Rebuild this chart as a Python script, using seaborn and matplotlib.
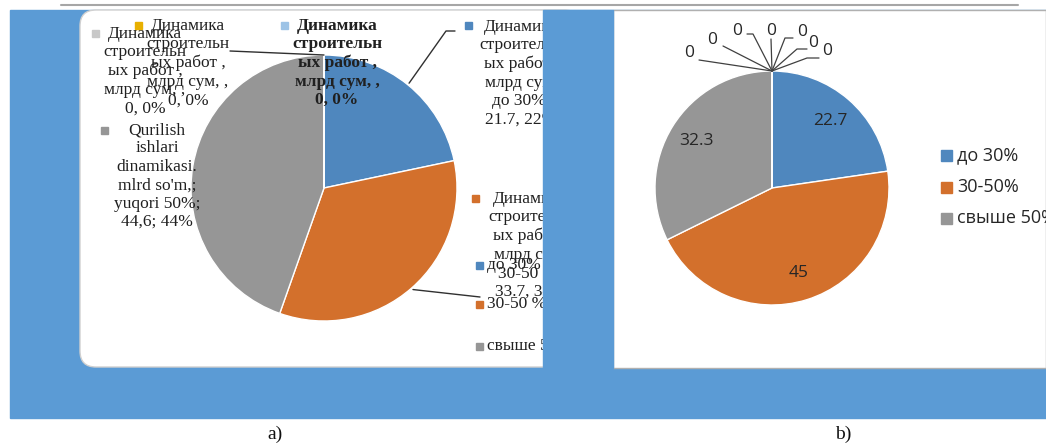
import matplotlib
matplotlib.use("Agg")
import numpy as np
import matplotlib.pyplot as plt
import seaborn as sns
from matplotlib.patches import Rectangle, FancyBboxPatch

# ------------------------------
# DATA
# ------------------------------

categories = ["до 30%", "30-50%", "свыше 50%"]
left_legend = ["до 30%", "30-50 %", "свыше 50%"]

# a) shares of the construction work, with three empty series
left_values = [21.7, 33.7, 44.6, 0, 0, 0]
left_pcts = ["22%", "34%", "44%", "0%", "0%", "0%"]
left_labels = [
    "Динамика\nстроительн\nых работ ,\nмлрд сум,\nдо 30%,\n21.7, 22%",
    "Динамика\nстроительн\nых работ ,\nмлрд сум,\n30-50 %,\n33.7, 34%",
    "Qurilish\nishlari\ndinamikasi.\nmlrd so'm,;\nyuqori 50%;\n44,6; 44%",
    "Динамика\nстроительн\nых работ ,\nмлрд сум, ,\n0, 0%",
    "Динамика\nстроительн\nых работ ,\nмлрд сум, ,\n0, 0%",
    "Динамика\nстроительн\nых работ ,\nмлрд сум, ,\n0, 0%",
]

# b) same split, next period, seven empty points
right_values = [22.7, 45, 32.3, 0, 0, 0, 0, 0, 0, 0]

# ------------------------------
# STYLE
# ------------------------------

sns.set_theme(style="white")
plt.rcParams['font.family'] = ['Liberation Serif', 'DejaVu Serif']

pie_colors = sns.color_palette(["#4F87BE", "#D3702C", "#969696"])
extra_colors = ["#C8C8C8", "#E8B000", "#9DC3E6"]
left_colors = list(pie_colors) + extra_colors
right_colors = list(pie_colors) + ["#C8C8C8"] * 7
page_blue = "#5B9BD5"

W, H = 1046, 448


def Y(py):
    return H - py


fig = plt.figure(figsize=(W / 100, H / 100), dpi=100)
ax = fig.add_axes([0, 0, 1, 1])

# ------------------------------
# BACKGROUND PANELS
# ------------------------------

ax.plot([61, 1018], [Y(5), Y(5)], color="#A6A6A6", lw=1.5)
ax.add_patch(Rectangle((10, Y(418)), W - 10, 408, color=page_blue, zorder=0))
ax.add_patch(FancyBboxPatch((80, Y(367)), 500, 357,
                            boxstyle="round,pad=0,rounding_size=16",
                            facecolor="white", edgecolor="#D0D0D0", lw=1, zorder=0.5))
ax.add_patch(Rectangle((613, Y(368)), W - 613, 358, facecolor="white",
                       edgecolor="#B0B0B0", lw=1, zorder=0.5))

# ------------------------------
# LEFT PIE (a)
# ------------------------------

lc = (324, Y(188))
lr = 133
lw_, _ = ax.pie(left_values, colors=left_colors, startangle=90, counterclock=False,
                center=lc, radius=lr, frame=True)

# label blocks: (centre x, top y) and legend squares
left_label_pos = [(521, 19), (530, 191), (157, 122), (145, 26), (188, 18), (337, 18)]
left_square_pos = [(468, 25), (475, 198), (104, 130), (95, 33), (138, 25), (284, 25)]
for i, txt in enumerate(left_labels):
    x, y = left_label_pos[i]
    ax.text(x, Y(y), txt, ha="center", va="top", fontsize=12.5, linespacing=1.2,
            color="#202020", fontweight="bold" if i == 5 else "normal", zorder=4)
    sx, sy = left_square_pos[i]
    ax.add_patch(Rectangle((sx - 3.5, Y(sy) - 3.5), 7, 7, color=left_colors[i], zorder=4))


def edge_point(w, center, r):
    th = np.deg2rad((w.theta1 + w.theta2) / 2)
    return center[0] + r * np.cos(th), center[1] + r * np.sin(th)


bx, by = edge_point(lw_[0], lc, lr + 2)
ax.plot([bx, 446, 455], [by, Y(31), Y(31)], color="#303030", lw=1, zorder=3)
ox, oy = edge_point(lw_[1], lc, lr + 2)
ax.plot([ox, 480], [oy, Y(297)], color="#303030", lw=1, zorder=3)
tx, ty = edge_point(lw_[3], lc, lr)
ax.plot([230, tx], [Y(51), ty], color="#303030", lw=1, zorder=3)

# left legend
for i, name in enumerate(left_legend):
    ly = [265, 304, 346][i]
    ax.add_patch(Rectangle((476, Y(ly) - 3.5), 7, 7, color=pie_colors[i], zorder=4))
    ax.text(487, Y(ly), name, ha="left", va="center", fontsize=12.5,
            color="#202020", zorder=4)

# strip that cuts the left panel
ax.add_patch(Rectangle((543, Y(368)), 70, 358, color=page_blue, zorder=10))

# ------------------------------
# RIGHT PIE (b)
# ------------------------------

rc = (772, Y(188))
rr = 117
rw, _ = ax.pie(right_values, colors=right_colors, startangle=90, counterclock=False,
               center=rc, radius=rr, frame=True)

for w, v in zip(rw[:3], right_values[:3]):
    px, py = edge_point(w, rc, rr * 0.76)
    ax.text(px, py, f"{v:g}", ha="center", va="center", fontsize=12.5,
            family="Open Sans", color="#262626", zorder=4)

zero_label_pos = [(689, 53), (712, 40), (737, 31), (771, 31), (802, 32), (813, 43), (827, 51)]
zero_line_pts = [[(699, 60)], [(723, 46)], [(747, 34), (753, 34)], [(771, 39)],
                 [(793, 38), (785, 38)], [(807, 49), (797, 49)], [(819, 58), (807, 58)]]
for w, v, (zx, zy), pts in zip(rw[3:], right_values[3:], zero_label_pos, zero_line_pts):
    ax.text(zx, Y(zy), f"{v:g}", ha="center", va="center", fontsize=12.5,
            family="Open Sans", color="#262626", zorder=4)
    top = (rc[0] + rr * np.cos(np.deg2rad(w.theta1)), rc[1] + rr * np.sin(np.deg2rad(w.theta1)))
    xs = [p[0] for p in pts] + [top[0]]
    ys = [Y(p[1]) for p in pts] + [top[1]]
    ax.plot(xs, ys, color="#404040", lw=0.9, zorder=3)

for i, name in enumerate(categories):
    ly = [155, 187, 218][i]
    ax.add_patch(Rectangle((941, Y(ly) - 5.5), 11, 11, color=pie_colors[i], zorder=4))
    ax.text(957, Y(ly), name, ha="left", va="center", fontsize=13,
            family="Open Sans", color="#262626", zorder=4)

# ------------------------------
# CAPTIONS
# ------------------------------

ax.text(275, Y(434), "a)", ha="center", va="center", fontsize=14, color="#111111")
ax.text(843, Y(434), "b)", ha="center", va="center", fontsize=14, color="#111111")

ax.set_xlim(0, W)
ax.set_ylim(0, H)
ax.set_aspect("auto")
ax.set_position([0, 0, 1, 1])
ax.axis("off")

fig.savefig("out.png", dpi=100)
